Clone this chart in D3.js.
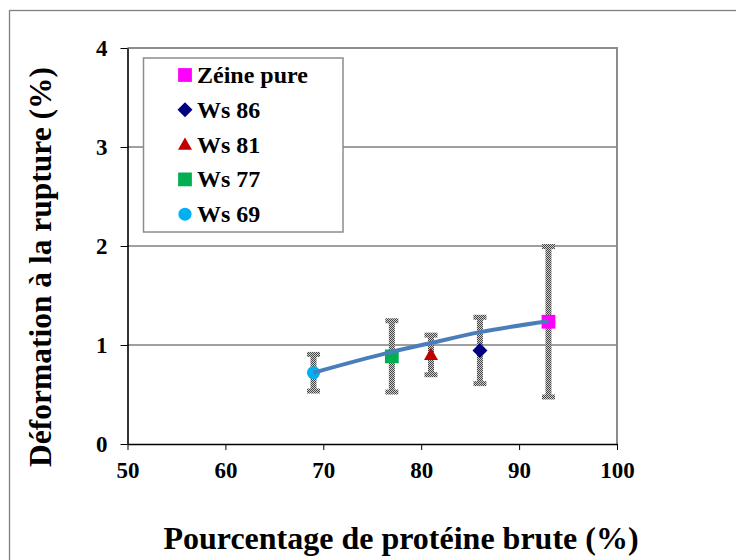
<!DOCTYPE html>
<html>
<head>
<meta charset="utf-8">
<script src="https://cdn.jsdelivr.net/npm/d3@7"></script>
<style>
  html, body { margin: 0; padding: 0; background: #fff; }
  svg { display: block; }
  text { font-family: "Liberation Serif", "Times New Roman", serif; font-weight: bold; fill: #000; }
</style>
</head>
<body>
<svg id="chart" width="736" height="560"></svg>
<script>
// ---- data ----
const categories = ["Zéine pure", "Ws 86", "Ws 81", "Ws 77", "Ws 69"];
const proteinX   = [93, 86, 81, 77, 69];
const strainY    = [1.235, 0.945, 0.90, 0.885, 0.72];
const errorY     = [0.76, 0.335, 0.20, 0.36, 0.185];
const colors     = ["#ff00ff", "#000080", "#c00000", "#00b050", "#00b0f0"];
const shapes     = ["square", "diamond", "triangle", "square", "circle"];
const trendX     = [69, 77, 81, 86, 93];
const trendY     = [0.72, 0.93, 1.02, 1.13, 1.24];
const xTicks     = [50, 60, 70, 80, 90, 100];
const yTicks     = [0, 1, 2, 3, 4];
const xTitle     = "Pourcentage de protéine brute (%)";
const yTitle     = "Déformation à la rupture (%)";

// ---- layout ----
const svg = d3.select("#chart");
const L = 127.5, R = 617, T = 48, B = 444;
const x = d3.scaleLinear().domain([50, 100]).range([L, R]);
const y = d3.scaleLinear().domain([0, 4]).range([B, T]);
const FONT = "'Liberation Serif', 'Times New Roman', serif";

// outer frame
svg.append("rect").attr("x", 9.5).attr("y", 10.5).attr("width", 900).attr("height", 700)
  .attr("fill", "#fff").attr("stroke", "#808080").attr("stroke-width", 1.3);

// dither pattern for error bars
const defs = svg.append("defs");
const pat = defs.append("pattern").attr("id", "dither").attr("patternUnits", "userSpaceOnUse")
  .attr("width", 2).attr("height", 2);
pat.append("rect").attr("width", 2).attr("height", 2).attr("fill", "#cfcfcf");
pat.append("rect").attr("x", 0).attr("y", 0).attr("width", 1).attr("height", 1).attr("fill", "#454545");
pat.append("rect").attr("x", 1).attr("y", 1).attr("width", 1).attr("height", 1).attr("fill", "#454545");

// gridlines
svg.append("g").selectAll("line").data(yTicks.filter(d => d > 0 && d < 4)).join("line")
  .attr("x1", L).attr("x2", R).attr("y1", d => y(d)).attr("y2", d => y(d))
  .attr("stroke", "#404040").attr("stroke-width", 1);

// top & right plot border (gray)
svg.append("path").attr("d", `M${L},${T}H${R}V${B}`).attr("fill", "none")
  .attr("stroke", "#8c8c8c").attr("stroke-width", 2);

// axes
const xAxis = svg.append("g").attr("transform", `translate(0,${B})`)
  .call(d3.axisBottom(x).tickValues(xTicks).tickFormat(d3.format("d"))
    .tickSize(6).tickPadding(12).tickSizeOuter(0));
const yAxis = svg.append("g").attr("transform", `translate(${L},0)`)
  .call(d3.axisLeft(y).tickValues(yTicks).tickFormat(d3.format("d"))
    .tickSize(7).tickPadding(13).tickSizeOuter(0));
[xAxis, yAxis].forEach(g => {
  g.attr("font-family", FONT).attr("font-size", 23).attr("font-weight", "bold");
  g.select(".domain").attr("stroke", "#000").attr("stroke-width", 1.6);
  g.selectAll(".tick line").attr("stroke", "#000").attr("stroke-width", 1);
  g.selectAll(".tick text").style("font-family", FONT)
    .style("font-weight", "bold").style("font-size", "23px").attr("fill", "#000");
});
xAxis.selectAll(".tick text").attr("dy", "0.71em");

// error bars
const eb = svg.append("g");
proteinX.forEach((px, i) => {
  const cx = x(px), y1 = y(strainY[i] + errorY[i]), y2 = y(strainY[i] - errorY[i]);
  eb.append("rect").attr("x", cx - 3).attr("y", y1).attr("width", 6).attr("height", y2 - y1)
    .attr("fill", "url(#dither)");
  [y1, y2].forEach(yy => eb.append("rect").attr("x", cx - 6.5).attr("y", yy - 2.5)
    .attr("width", 13).attr("height", 5).attr("fill", "url(#dither)"));
});

// markers
function symbolPath(shape) {
  switch (shape) {
    case "square":   return d3.symbol(d3.symbolSquare, 190)();
    case "diamond":  return d3.symbol(d3.symbolSquare, 112)();
    case "triangle": return d3.symbol(d3.symbolTriangle, 85)();
    case "circle":   return d3.symbol(d3.symbolCircle, 135)();
  }
}
function symbolTransform(shape, cx, cy) {
  if (shape === "diamond") return `translate(${cx},${cy}) rotate(45)`;
  if (shape === "triangle") return `translate(${cx},${cy + 1})`;
  return `translate(${cx},${cy})`;
}
svg.append("g").selectAll("path").data(categories).join("path")
  .attr("d", (d, i) => symbolPath(shapes[i]))
  .attr("transform", (d, i) => symbolTransform(shapes[i], x(proteinX[i]), y(strainY[i])))
  .attr("fill", (d, i) => colors[i]);

// trend line (drawn above markers)
svg.append("path").datum(trendX.map((d, i) => [d, trendY[i]]))
  .attr("d", d3.line().x(d => x(d[0])).y(d => y(d[1])).curve(d3.curveMonotoneX))
  .attr("fill", "none").attr("stroke", "#4a7ebb").attr("stroke-width", 4);

// legend
const lg = svg.append("g");
lg.append("rect").attr("x", 143.5).attr("y", 58).attr("width", 199.5).attr("height", 174)
  .attr("fill", "#fff").attr("stroke", "#8c8c8c").attr("stroke-width", 1.5);
categories.forEach((c, i) => {
  const cy = 75 + i * 34.8;
  lg.append("path").attr("d", symbolPath(shapes[i]))
    .attr("transform", symbolTransform(shapes[i], 185, cy)).attr("fill", colors[i]);
  lg.append("text").attr("x", 197).attr("y", cy + 8).style("font-size", "24px").text(c);
});

// axis titles
svg.append("text").attr("x", 401).attr("y", 549).attr("text-anchor", "middle")
  .style("font-size", "32px").text(xTitle);
svg.append("text").attr("transform", "translate(51,267) rotate(-90)").attr("text-anchor", "middle")
  .style("font-size", "31.5px").text(yTitle);
</script>
</body>
</html>
